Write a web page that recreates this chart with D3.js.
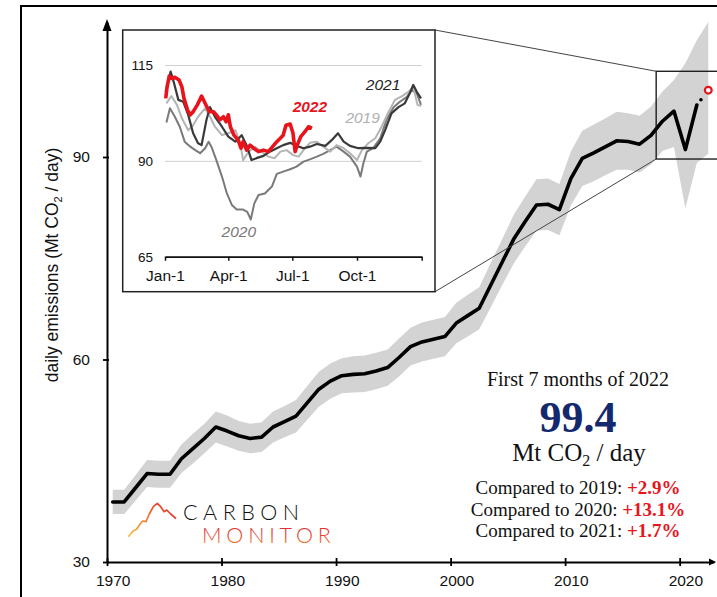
<!DOCTYPE html>
<html><head><meta charset="utf-8">
<script src="https://cdn.jsdelivr.net/npm/d3@7"></script>
<style>body{margin:0;background:#fff;} svg{display:block;}</style>
</head><body><svg id="chart" width="717" height="597"></svg>
<script>
// ---------------- DATA ----------------
const mainYears = [1970,1971,1972,1973,1974,1975,1976,1977,1978,1979,1980,1981,1982,1983,1984,1985,1986,1987,1988,1989,
  1990,1991,1992,1993,1994,1995,1996,1997,1998,1999,2000,2001,2002,2003,2004,2005,2006,2007,2008,2009,
  2010,2011,2012,2013,2014,2015,2016,2017,2018,2019,2020,2021];
const mainValues = [38.9,38.9,41.0,43.1,43.0,43.0,45.3,46.8,48.3,50.0,49.4,48.7,48.3,48.5,50.0,50.8,51.6,53.6,55.6,56.8,
  57.6,57.8,57.9,58.3,58.8,60.3,61.9,62.6,63.0,63.4,65.4,66.5,67.6,71.0,74.4,77.8,80.4,82.9,83.0,82.2,
  86.8,89.8,90.6,91.5,92.4,92.3,91.9,93.2,95.3,96.8,91.1,97.7];
const bandYears = [1970,1971,1972,1973,1974,1975,1976,1977,1978,1979,1980,1981,1982,1983,1984,1985,1986,1987,1988,1989,
  1990,1991,1992,1993,1994,1995,1996,1997,1998,1999,2000,2001,2002,2003,2004,2005,2006,2007,2008,2009,
  2010,2011,2012,2013,2014,2015,2016,2017,2018,2019,2020,2021,2022];
const bandLow = [37.1,37.1,39.1,41.1,41.0,41.0,43.2,44.6,46.1,47.7,47.1,46.5,46.1,46.3,47.7,48.5,49.2,51.1,53.0,54.2,
  55.0,55.1,55.2,55.6,56.1,57.5,59.1,59.7,60.1,60.5,62.4,63.4,64.5,67.7,71.0,74.2,76.7,79.1,79.2,78.4,
  82.8,85.7,86.4,87.3,88.1,88.1,87.7,88.9,90.9,91.5,82.4,89.1,90.5];
const bandHigh = [40.7,40.7,42.9,45.1,45.0,45.0,47.4,49.0,50.5,52.3,51.7,50.9,50.5,50.7,52.3,53.1,54.0,56.1,58.2,59.4,
  60.2,60.5,60.6,61.0,61.5,63.1,64.7,65.5,65.9,66.3,68.4,69.6,70.7,74.3,77.8,81.4,84.1,86.7,86.8,86.0,
  90.8,93.9,94.8,95.7,96.7,96.5,96.1,97.5,99.7,101.4,103.9,107.3,110.0];
const currentYear = 2022;
const currentValue = 99.9;
const xTickYears = [1970,1980,1990,2000,2010,2020];
const yTickValues = [30,60,90];

// inset: daily emissions by day of year
const insetTickDays = [0,90,181,273,365];
const insetTickLabels = ["Jan-1","Apr-1","Jul-1","Oct-1",""];
const insetYTicks = [65,90,115];
const days2019 = [2,9,17,24,33,40,47,57,64,71,81,90,100,107,111,119,128,137,147,156,164,173,182,190,197,206,216,225,235,244,254,263,273,280,289,299,308,318,327,337,346,353,359,364];
const vals2019 = [105.0,106.9,104.6,101.1,98.0,99.3,101.5,103.7,101.5,98.9,96.7,97.2,98.0,94.6,90.2,92.4,93.7,92.4,91.1,90.7,92.4,92.8,91.5,91.1,92.8,94.7,95.0,93.7,92.4,94.1,93.3,92.0,90.2,92.8,94.6,95.9,98.9,102.8,105.9,106.9,108.0,109.3,104.6,104.3];
const days2020 = [2,7,14,21,28,36,43,50,57,62,66,73,81,88,95,102,111,117,122,127,133,142,152,159,168,178,187,197,206,216,225,235,244,254,263,273,278,282,287,296,306,315,325,334,344,351,358,364];
const vals2020 = [100.0,103.7,101.5,98.9,95.0,93.7,92.8,92.0,93.3,95.0,93.7,90.2,85.9,81.5,78.5,77.3,77.3,76.7,74.7,78.9,81.1,81.5,83.3,86.6,87.2,87.8,88.5,89.8,90.4,91.1,91.8,92.8,93.7,92.4,91.1,88.5,85.9,89.3,92.4,93.3,95.9,100.7,104.0,105.4,106.7,108.5,107.6,104.6];
const days2021 = [1,8,13,19,26,33,40,47,52,59,64,71,81,90,100,109,116,123,130,140,149,159,168,178,187,197,206,216,228,237,246,254,263,275,287,299,306,313,322,332,341,348,353,358,364];
const vals2021 = [108.0,113.3,110.2,105.9,105.4,102.0,97.2,94.6,94.1,100.7,104.0,101.5,98.9,96.3,95.0,96.7,94.1,90.2,90.7,91.3,92.4,93.3,94.1,94.7,93.9,93.3,93.7,94.4,93.9,95.4,97.2,95.0,93.9,93.3,93.4,93.3,95.0,98.0,102.4,104.0,105.0,107.6,109.8,108.0,106.3];
const days2022 = [1,3,6,9,14,20,24,27,32,36,40,46,52,57,63,69,73,78,83,87,90,93,98,104,108,111,116,121,126,133,140,147,153,159,164,168,172,178,182,185,188,193,199,204,209];
const vals2022 = [106.3,109.3,112.1,111.5,111.8,111.1,109.3,106.3,103.3,102.0,102.8,104.6,106.9,105.0,102.8,102.8,102.0,100.7,101.5,100.2,102.0,98.9,96.7,95.4,93.3,95.0,92.8,94.1,93.3,92.4,92.8,92.4,93.7,95.0,95.9,96.7,99.3,99.6,97.2,92.4,94.1,96.3,97.6,98.9,98.5];

// ---------------- CHART ----------------
const svg = d3.select("#chart");
const sans = "Liberation Sans, Arial, sans-serif";
const x = d3.scaleLinear().domain([1969.5, 2022.5]).range([107, 714]);
const y = d3.scaleLinear().domain([30, 110]).range([562, 22]);

// outer frame
svg.append("rect").attr("x",21).attr("y",6).attr("width",760).attr("height",700)
  .attr("fill","none").attr("stroke","#000").attr("stroke-width",2);

// band
const bandData = d3.zip(bandYears, bandLow, bandHigh);
svg.append("path").datum(bandData)
  .attr("d", d3.area().x(d=>x(d[0])).y0(d=>y(d[1])).y1(d=>y(d[2])))
  .attr("fill","#d3d3d3");

// main line
const lineData = d3.zip(mainYears, mainValues);
svg.append("path").datum(lineData)
  .attr("d", d3.line().x(d=>x(d[0])).y(d=>y(d[1])))
  .attr("fill","none").attr("stroke","#000").attr("stroke-width",3.6)
  .attr("stroke-linejoin","round").attr("stroke-linecap","round");

// dotted link to current year
const lastY = mainYears[mainYears.length-1], lastV = mainValues[mainValues.length-1];
const interp = d3.interpolate([x(lastY), y(lastV)], [x(currentYear), y(currentValue)]);
const dotPos = interp(0.36);
svg.append("circle").attr("cx",dotPos[0]).attr("cy",dotPos[1]).attr("r",1.8).attr("fill","#000");
svg.append("circle").attr("cx",x(currentYear)).attr("cy",y(currentValue)).attr("r",3.4)
  .attr("fill","#fff").attr("stroke","#e8141c").attr("stroke-width",2.2);

// axes
const xTicksAxis = d3.axisBottom(x).tickValues(xTickYears.map(d=>d-0.5)).tickSizeInner(4).tickSizeOuter(0).tickFormat("");
const gx = svg.append("g").attr("transform","translate(0,562)").call(xTicksAxis);
gx.select(".domain").attr("stroke-width",2);
gx.selectAll(".tick line").attr("y1",-4).attr("y2",4).attr("stroke-width",1.8);
const xLabelAxis = d3.axisBottom(x).tickValues(xTickYears).tickSize(0).tickPadding(19).tickFormat(d3.format("d"));
const gxl = svg.append("g").attr("transform","translate(0,562)").call(xLabelAxis);
gxl.select(".domain").remove();
gxl.selectAll("text").attr("font-family",sans).attr("font-size",15.5).attr("fill","#111").attr("dy","0.35em");
// x arrow
svg.append("path").attr("d","M709,558.5 L716,562 L709,565.5 Z").attr("fill","#000");

const yAxis = d3.axisLeft(y).tickValues(yTickValues).tickSizeInner(4).tickSizeOuter(0).tickPadding(13);
const gy = svg.append("g").attr("transform","translate(107,0)").call(yAxis);
gy.select(".domain").attr("stroke-width",2);
gy.selectAll(".tick line").attr("x1",-4).attr("x2",2).attr("stroke-width",1.8);
gy.selectAll("text").attr("font-family",sans).attr("font-size",15.5).attr("fill","#111");
svg.append("path").attr("d","M107,19 L111.5,31 L102.5,31 Z").attr("fill","#000");

// y label
const yl = svg.append("text").attr("transform","translate(58,265) rotate(-90)")
  .attr("text-anchor","middle").attr("font-family",sans)
  .attr("font-size",17.5).attr("fill","#111");
yl.append("tspan").text("daily emissions (Mt CO");
yl.append("tspan").text("2").attr("font-size",11).attr("dy",4);
yl.append("tspan").text(" / day)").attr("dy",-4);

// zoom box + connectors
const zbX0 = x(2017.45), zbY0 = y(102.7), zbY1 = y(89.7);
svg.append("rect").attr("x",zbX0).attr("y",zbY0).attr("width",80).attr("height",zbY1-zbY0)
  .attr("fill","none").attr("stroke","#111").attr("stroke-width",1.3);

const inset = {x0:122.7, y0:30, x1:435, y1:291.7};
svg.append("line").attr("x1",inset.x1).attr("y1",inset.y0).attr("x2",zbX0).attr("y2",zbY0).attr("stroke","#444").attr("stroke-width",1);
svg.append("line").attr("x1",inset.x1).attr("y1",inset.y1).attr("x2",zbX0).attr("y2",zbY1).attr("stroke","#444").attr("stroke-width",1);

// inset
svg.append("rect").attr("x",inset.x0).attr("y",inset.y0).attr("width",inset.x1-inset.x0).attr("height",inset.y1-inset.y0)
  .attr("fill","#fff").attr("stroke","#222").attr("stroke-width",1.5);
const ix = d3.scaleLinear().domain([0,365]).range([165,421.7]);
const iy = d3.scaleLinear().domain([65,115]).range([256.7,65]);

const iyAxis = d3.axisLeft(iy).tickValues(insetYTicks).tickSize(-(421.7-165)).tickPadding(12);
const giy = svg.append("g").attr("transform","translate(165,0)").call(iyAxis);
giy.select(".domain").remove();
giy.selectAll(".tick line").attr("stroke","#d0d0d0").attr("stroke-width",1);
giy.selectAll("text").attr("font-family",sans).attr("font-size",13.5).attr("fill","#111");

const ixAxis = d3.axisBottom(ix).tickValues(insetTickDays).tickSizeInner(4).tickSizeOuter(0).tickPadding(9)
  .tickFormat((d,i)=>insetTickLabels[i]);
const gix = svg.append("g").attr("transform","translate(0,256.7)").call(ixAxis);
gix.select(".domain").attr("stroke","#111").attr("stroke-width",1.8);
gix.selectAll(".tick line").attr("stroke","#111").attr("stroke-width",1.5);
gix.selectAll("text").attr("font-family",sans).attr("font-size",15.5).attr("fill","#111");

const iline = d3.line().x(d=>ix(d[0])).y(d=>iy(d[1]));
const series = [
  {d:days2020, v:vals2020, c:"#7a7a7a", w:2},
  {d:days2019, v:vals2019, c:"#b4b4b4", w:2},
  {d:days2021, v:vals2021, c:"#3a3a3a", w:2.2},
  {d:days2022, v:vals2022, c:"#e8141c", w:3.6}
];
series.forEach(s=>{
  svg.append("path").datum(d3.zip(s.d, s.v)).attr("d", iline)
    .attr("fill","none").attr("stroke",s.c).attr("stroke-width",s.w).attr("stroke-linejoin","round");
});
const insetLabels = [
  {t:"2021", d:310, v:108.5, c:"#222", b:false},
  {t:"2022", d:206, v:102.7, c:"#e8141c", b:true},
  {t:"2019", d:281, v:99.9, c:"#b0b0b0", b:false},
  {t:"2020", d:105, v:70.1, c:"#777", b:false}
];
insetLabels.forEach(l=>{
  svg.append("text").attr("x",ix(l.d)).attr("y",iy(l.v)).attr("text-anchor","middle")
    .attr("font-family",sans).attr("font-size",15.5)
    .attr("font-style","italic").attr("font-weight",l.b?"bold":"normal").attr("fill",l.c).text(l.t);
});

// text block
const serif = "Liberation Serif, 'Times New Roman', serif";
svg.append("text").attr("x",578).attr("y",386).attr("text-anchor","middle").attr("font-family",serif)
  .attr("font-size",20).attr("fill","#111").text("First 7 months of 2022");
svg.append("text").attr("x",578).attr("y",432).attr("text-anchor","middle").attr("font-family",serif)
  .attr("font-size",44).attr("font-weight","bold").attr("fill","#14286e").text("99.4");
const mt = svg.append("text").attr("x",579).attr("y",461).attr("text-anchor","middle").attr("font-family",serif)
  .attr("font-size",25).attr("fill","#111");
mt.append("tspan").text("Mt CO");
mt.append("tspan").text("2").attr("font-size",16).attr("dy",5);
mt.append("tspan").text(" / day").attr("dy",-5);

const compareYears = ["2019","2020","2021"];
const compareChanges = ["+2.9%","+13.1%","+1.7%"];
compareYears.forEach((yr,i)=>{
  const t = svg.append("text").attr("x",578).attr("y",494+i*21.5).attr("text-anchor","middle")
    .attr("font-family",serif).attr("font-size",19).attr("fill","#111");
  t.append("tspan").text("Compared to "+yr+": ");
  t.append("tspan").text(compareChanges[i]).attr("font-weight","bold").attr("fill","#e8141c");
});

// logo
const defs = svg.append("defs");
const g1 = defs.append("linearGradient").attr("id","monGrad").attr("x1",0).attr("y1",0).attr("x2",0).attr("y2",1);
g1.append("stop").attr("offset","0%").attr("stop-color","#dc1f32");
g1.append("stop").attr("offset","55%").attr("stop-color","#e6452c");
g1.append("stop").attr("offset","100%").attr("stop-color","#f29a2c");
const g2 = defs.append("linearGradient").attr("id","mtnGrad").attr("gradientUnits","userSpaceOnUse")
  .attr("x1",128).attr("y1",537).attr("x2",165).attr("y2",503);
g2.append("stop").attr("offset","0%").attr("stop-color","#f8c040");
g2.append("stop").attr("offset","100%").attr("stop-color","#e8362a");
svg.append("path").attr("d","M128.3,536.7 L133.3,530.7 L136.7,529.3 L139.3,525 L142.7,521 L146,521.7 L149.3,514 L153.3,506.7 L157.3,503.3 L160.7,506.7 L164,511.7 L166.7,510 L170.7,514 L176,518.7")
  .attr("fill","none").attr("stroke","url(#mtnGrad)").attr("stroke-width",1.7).attr("stroke-linejoin","round");
svg.append("text").attr("x",183).attr("y",520).attr("font-family","Lato, 'Open Sans', sans-serif")
  .attr("font-weight",300).attr("font-size",21.5).attr("letter-spacing",5.5).attr("fill","#111").text("CARBON");
svg.append("text").attr("x",202).attr("y",543).attr("font-family","Lato, 'Open Sans', sans-serif")
  .attr("font-weight",300).attr("font-size",21.5).attr("letter-spacing",4.8).attr("fill","url(#monGrad)").text("MONITOR");
</script></body></html>
